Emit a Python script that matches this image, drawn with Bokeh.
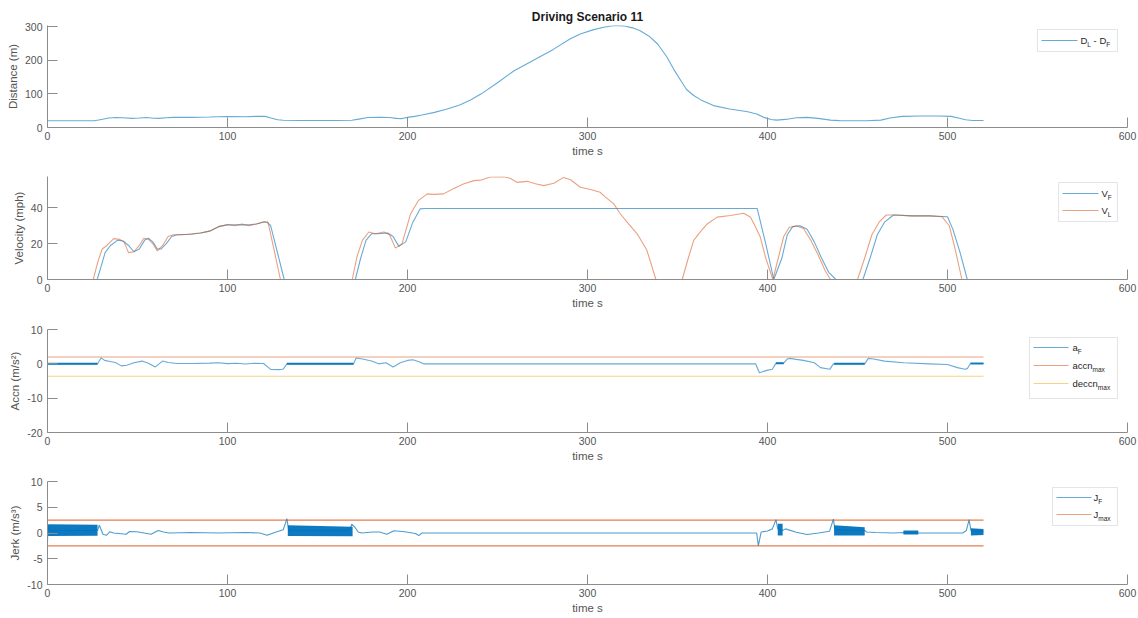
from bokeh.plotting import figure
from bokeh.layouts import column
from bokeh.models import Range1d, FixedTicker, BoxAnnotation, Label
from bokeh.embed import file_html
from bokeh.resources import INLINE

# ---------------- data ----------------
dist_t = [0, 26, 30, 34, 38, 42, 47, 51, 55, 59, 62, 66, 70, 80, 90, 100, 110, 116, 121, 124,
          128, 131, 140, 150, 160, 169, 173, 178, 185, 190, 194, 197, 200, 204, 208, 215, 222, 229, 235, 241,
          250, 259, 270, 281, 290, 296, 303, 309, 315, 320, 325, 329, 334, 339, 344, 348, 352, 355, 359, 363,
          370, 379, 389, 394, 398, 402, 405, 410, 416, 422, 428, 435, 440, 445, 455, 463, 468, 475, 485, 495,
          502, 506, 510, 514, 520]
dist_m = [20, 20, 24, 28, 29.5, 29, 27, 28, 29.5, 27.5, 27, 29, 30, 30, 31, 32.5, 32, 33, 33, 28,
          23, 21.5, 21, 21, 21, 21.5, 25, 29.5, 30, 29.5, 27, 26.5, 30, 33, 37, 45, 55, 67, 82, 100,
          133, 168, 200, 232, 262, 278, 290, 298, 303, 302, 296, 288, 272, 248, 210, 172, 138, 113, 95, 82,
          65, 55, 47, 40, 30, 24, 22, 24, 29, 30, 27, 22, 20.5, 20, 20, 22, 28, 33, 34, 34,
          33, 28, 23, 21, 21]

vl_t = [0, 25.4, 28, 30.4, 33, 36.8, 40, 42.5, 45, 48, 51, 53.5, 56, 58.5, 61, 64, 67, 70, 75, 80,
        85, 90, 95, 100, 104, 108, 112, 116, 120.5, 122.5, 126, 129.4, 169.3, 172, 175, 178.5, 182, 186.9, 190, 193.3,
        197, 201.7, 206, 211, 215, 220, 226, 231, 236.9, 241, 246, 253.5, 257, 261, 266.5, 271, 275.7, 281.3, 286.8, 290.6,
        296, 301.7, 307, 310, 314.6, 318, 322, 327.6, 333, 338, 352.6, 356, 359, 363, 366.5, 372, 379.4, 386.8, 390.6, 393,
        396, 399, 403, 406, 409, 412, 416, 420, 424, 428, 432, 435, 450, 454, 458, 462, 466, 472, 480, 490,
        497, 501, 504, 508, 520]
vl_mph = [0, 0, 10, 17, 19, 22.8, 22.5, 21, 15, 15.5, 19, 23, 22.5, 20, 16, 19, 24, 25, 25, 25.5,
          26, 27, 29.5, 30.7, 30, 31, 30, 31, 32.4, 32, 16, 0, 0, 13, 22, 26.5, 25.5, 26.5, 25, 17.5,
          20, 36.6, 44, 47.8, 47.5, 47.8, 51, 53.3, 55.2, 55.5, 57.2, 57.4, 56.5, 54.2, 54.8, 53.5, 52.4, 53.7, 57, 55.7,
          51.5, 50.2, 48.7, 46, 42.2, 37, 32, 25.5, 16.3, 0, 0, 12, 21.8, 27, 31, 34.8, 35.7, 37, 34.8, 30,
          23.7, 12, 0, 12, 24, 29, 30, 28.5, 22, 14, 5, 0, 0, 12, 25, 32, 36, 36, 35.5, 35.5,
          35, 30, 18, 0, 0]

vf_t = [0, 27.6, 30, 32, 35, 39, 42, 45, 48, 51, 54, 56, 58.5, 61, 63, 66, 69, 72, 80, 85,
        90, 95, 100, 104, 108, 112, 116, 120, 122, 124, 128, 131.5, 171, 174, 177, 180, 184, 189, 192, 195.2,
        199, 203, 207, 210, 394.3, 399, 403.5, 408, 411, 414, 418, 422, 426, 430, 434, 438, 453, 457, 461, 465,
        470, 480, 490, 500, 503, 507, 511, 520]
vf_mph = [0, 0, 8, 15, 19, 22, 21.5, 19, 15.5, 17, 22, 23, 21, 17, 17, 20, 24, 25, 25.3, 26,
          27, 29.5, 30.5, 30.5, 30.5, 30.5, 31, 32, 32, 30, 14, 0, 0, 12, 22, 25.5, 25.5, 26, 24, 18.5,
          21, 32, 39.4, 39.6, 39.6, 20, 0, 12, 25, 29.5, 30, 28, 21, 12, 4, 0, 0, 12, 25, 32,
          36, 35.5, 35.5, 35, 28, 15, 0, 0]

af_t = [0, 27.8, 29.8, 31.7, 34.7, 37.7, 41, 44, 48, 52.6, 56, 59.9, 63.9, 67, 72, 80, 90, 95, 100, 105,
        110, 115, 120, 124, 129, 131, 133, 170, 171.5, 175, 180, 184, 188, 192, 196, 200, 203, 206, 209, 393.4,
        395.5, 399.6, 402.7, 404.7, 409, 410.9, 412.5, 416, 420, 426, 429.4, 434.6, 436.6, 454, 456, 459, 465, 475.7, 490, 500,
        505.5, 509.7, 511, 512.8, 520]
af_val = [0, 0, 1.75, 1.0, 0.7, 0.4, -0.6, -0.4, 0.3, 0.8, 0.2, -0.9, 0.8, 0.4, 0.1, 0.1, 0.2, 0.3, 0.05, 0.15,
          -0.05, 0.15, 0.1, -1.6, -1.7, -1.5, 0, 0, 1.7, 1.4, 0.8, 0.0, 0.3, -0.9, 0.3, 1.0, 1.2, 0.7, 0, 0,
          -2.6, -1.9, -1.6, 0.2, 0.2, 1.4, 1.6, 1.3, 1.0, 0.3, -1.1, -1.6, 0, 0, 1.6, 1.4, 0.8, 0.3, 0, -0.2,
          -1.1, -1.6, -1.4, 0.1, 0.1]
# stretches where a_F chatters around a constant (drawn thicker)
af_thick_start = [0, 133, 404.7, 437, 512.8]
af_thick_end = [27.8, 170, 409, 454, 520]
af_thick_level = [0, 0, 0.2, 0, 0.1]

limit_t = [0, 520]
accn_max = 2.0
deccn_max = -3.6
jerk_max = 2.5

j_t = [0, 0.3, 1.0, 27.8, 28.8, 30.8, 32.7, 34.7, 36.7, 39.7, 43.7, 45.6, 49.6, 53.6, 57.5, 61.5, 64.5, 67.5, 80, 95,
       110, 118, 122, 127, 131, 133, 134, 168, 169, 170.6, 172.6, 174.6, 180.6, 184.5, 188.5, 192.5, 198.4, 204.4, 206.3, 208,
       394, 394.9, 396.5, 400, 402.7, 404.7, 405.7, 408.4, 410, 416, 422, 428.3, 434.5, 436.6, 437.5, 454, 455, 460, 470, 475.5,
       483.8, 495, 508.4, 510.5, 512, 513, 520]
j_val = [-1.75, 1.5, 0.5, 0.5, 1.5, -0.25, -0.45, 0.25, 0, -0.1, -0.25, 0.3, 0.25, 0, -0.25, 0.5, 0.2, 0, 0.1, 0,
         0.1, 0, -0.45, 0.2, 0.65, 2.8, 0.5, 0.5, 1.7, 1.2, 0.2, 0, 0.2, 0.2, -0.25, 0.45, 0.25, -0.1, -0.5, 0,
         0, -2.5, 0.2, 0.4, 0.8, 2.6, 0.8, 0.5, 0.8, 0.15, -0.3, 0, 0.35, 2.7, 0.6, 0.5, 0.2, 0.1, 0, 0.1,
         0, 0, 0, 0.5, 2.6, 0.5, 0.3]
# stretches where J_F oscillates rapidly (drawn as filled envelopes)
jb_start = [0.3, 133.5, 405.7, 437, 475.5, 513]
jb_end = [27.8, 169.5, 408.4, 454, 483.8, 520]
jb_hi_start = [1.7, 1.5, 1.8, 1.5, 0.5, 0.9]
jb_hi_end = [1.6, 1.2, 1.8, 1.1, 0.5, 0.8]
jb_lo_start = [-0.6, -0.6, -0.5, -0.5, -0.3, -0.5]
jb_lo_end = [-0.55, -0.65, -0.5, -0.5, -0.3, -0.4]

x_ticks = [0, 100, 200, 300, 400, 500, 600]

# ---------------- styling ----------------
FONT = "Liberation Sans"
BLUE = "#0072BD"
ORANGE = "#D95319"
YELLOW = "#EDB120"
AXIS = "#8c8c8c"
TICKTXT = "#555555"
FRAME_L, FRAME_W, XMAX = 47, 1080, 600
BLUE_A, ORANGE_A, YELLOW_A = 0.6, 0.55, 0.55

panels = [
    dict(page_top=0, frame_top=25, fh=102, bottom=38, ymin=0, ymax=303, yticks=[0, 100, 200, 300], ylabel="Distance (m)"),
    dict(page_top=165, frame_top=176, fh=103, bottom=38, ymin=0, ymax=57.5, yticks=[0, 20, 40], ylabel="Velocity (mph)"),
    dict(page_top=317, frame_top=329, fh=103, bottom=38, ymin=-20, ymax=10, yticks=[-20, -10, 0, 10], ylabel="Accn (m/s²)"),
    dict(page_top=470, frame_top=481, fh=103, bottom=34, ymin=-10, ymax=10, yticks=[-10, -5, 0, 5, 10], ylabel="Jerk (m/s³)"),
]


def dx(px):
    return (px - FRAME_L) / FRAME_W * XMAX


def dy(s, py):
    return s["ymax"] - (py - s["frame_top"]) / s["fh"] * (s["ymax"] - s["ymin"])


def make_panel(s):
    p = figure(frame_width=FRAME_W, frame_height=s["fh"],
               x_range=Range1d(0, XMAX), y_range=Range1d(s["ymin"], s["ymax"]),
               output_backend="svg", toolbar_location=None,
               min_border_left=FRAME_L, min_border_right=11,
               min_border_top=s["frame_top"] - s["page_top"], min_border_bottom=s["bottom"],
               background_fill_color="white", border_fill_color="white", outline_line_color=None)
    p.grid.visible = False
    for ax in (p.xaxis[0], p.yaxis[0]):
        ax.axis_line_color = AXIS
        ax.major_tick_line_color = AXIS
        ax.major_tick_in = 10
        ax.major_tick_out = 0
        ax.minor_tick_in = 0
        ax.minor_tick_out = 0
        ax.major_label_text_font = FONT
        ax.major_label_text_font_size = "10.5px"
        ax.major_label_text_color = TICKTXT
        ax.axis_label_text_font = FONT
        ax.axis_label_text_font_size = "11.5px"
        ax.axis_label_text_font_style = "normal"
        ax.axis_label_text_color = TICKTXT
    p.xaxis.ticker = FixedTicker(ticks=x_ticks)
    p.xaxis.axis_label = "time s"
    p.xaxis.major_label_standoff = 4
    p.xaxis.axis_label_standoff = 2
    p.yaxis.ticker = FixedTicker(ticks=s["yticks"])
    p.yaxis.major_label_overrides = {t: str(t) for t in s["yticks"]}
    p.yaxis.axis_label = s["ylabel"]
    p.yaxis.major_label_standoff = 5
    p.yaxis.axis_label_standoff = 3
    return p


CW = {'D': 722, 'L': 556, 'F': 611, ' ': 278, '-': 333, 'V': 667, 'a': 556, 'c': 500,
      'n': 556, 'd': 556, 'e': 556, 'm': 833, 'x': 500, 'J': 500}


def tw(text, size):
    return sum(CW.get(c, 556) for c in text) / 1000 * size


def add_legend(p, s, box, items):
    x1, y1, x2, y2 = box
    p.add_layout(BoxAnnotation(left=dx(x1), right=dx(x2), top=dy(s, y1), bottom=dy(s, y2),
                               fill_color="white", fill_alpha=1, line_color="#a6a6a6", line_width=1))
    for ly, lx1, lx2, color, alpha, tx, runs in items:
        r = p.segment(x0=[dx(lx1)], y0=[dy(s, ly)], x1=[dx(lx2)], y1=[dy(s, ly)],
                      line_color=color, line_alpha=alpha, line_width=1.1)
        r.level = "overlay"
        x = tx
        for text, sub in runs:
            size = 6.5 if sub else 9.5
            if text.startswith(" "):
                x += tw(" ", size)
                text = text[1:]
            yo = ly + (3.5 if sub else 0)
            p.add_layout(Label(x=dx(x), y=dy(s, yo), text=text, text_font=FONT, text_font_size=f"{size}px",
                               text_baseline="middle", text_align="left", text_color="#262626", level="overlay"))
            x += tw(text, size)


# ---------------- panel 1: distance ----------------
s1 = panels[0]
p1 = make_panel(s1)
p1.title.text = "Driving Scenario 11"
p1.title.align = "center"
p1.title.text_font = FONT
p1.title.text_font_size = "12px"
p1.title.text_font_style = "bold"
p1.title.text_color = "#1a1a1a"
p1.title.standoff = 3
p1.line(dist_t, dist_m, line_color=BLUE, line_width=1.1, line_alpha=BLUE_A)
add_legend(p1, s1, (1037, 29, 1117, 51),
           [(40, 1041, 1077, BLUE, BLUE_A, 1080, [("D", 0), ("L", 1), (" - D", 0), ("F", 1)])])

# ---------------- panel 2: velocity ----------------
s2 = panels[1]
p2 = make_panel(s2)
p2.line(vf_t, vf_mph, line_color=BLUE, line_width=1.1, line_alpha=BLUE_A)
p2.line(vl_t, vl_mph, line_color=ORANGE, line_width=1.1, line_alpha=ORANGE_A)
add_legend(p2, s2, (1058, 182, 1117, 221),
           [(193, 1062, 1098, BLUE, BLUE_A, 1101, [("V", 0), ("F", 1)]),
            (210, 1062, 1098, ORANGE, ORANGE_A, 1101, [("V", 0), ("L", 1)])])

# ---------------- panel 3: acceleration ----------------
s3 = panels[2]
p3 = make_panel(s3)
p3.line(af_t, af_val, line_color=BLUE, line_width=1.1, line_alpha=BLUE_A)
p3.segment(x0=af_thick_start, y0=af_thick_level, x1=af_thick_end, y1=af_thick_level,
           line_color=BLUE, line_width=2.0, line_alpha=0.9)
p3.line(limit_t, [accn_max, accn_max], line_color=ORANGE, line_width=1.1, line_alpha=ORANGE_A)
p3.line(limit_t, [deccn_max, deccn_max], line_color=YELLOW, line_width=1.1, line_alpha=YELLOW_A)
add_legend(p3, s3, (1029, 337, 1117, 398),
           [(347, 1033, 1068, BLUE, BLUE_A, 1072, [("a", 0), ("F", 1)]),
            (365, 1033, 1068, ORANGE, ORANGE_A, 1072, [("accn", 0), ("max", 1)]),
            (383, 1033, 1068, YELLOW, YELLOW_A, 1072, [("deccn", 0), ("max", 1)])])

# ---------------- panel 4: jerk ----------------
s4 = panels[3]
p4 = make_panel(s4)
for a, b, hs, he, ls, le in zip(jb_start, jb_end, jb_hi_start, jb_hi_end, jb_lo_start, jb_lo_end):
    p4.varea(x=[a, b], y1=[ls, le], y2=[hs, he], fill_color=BLUE, fill_alpha=0.95)
p4.line(j_t, j_val, line_color=BLUE, line_width=1.1, line_alpha=0.7)
p4.line(limit_t, [jerk_max, jerk_max], line_color=ORANGE, line_width=1.1, line_alpha=0.75)
p4.line(limit_t, [-jerk_max, -jerk_max], line_color=ORANGE, line_width=1.1, line_alpha=0.75)
add_legend(p4, s4, (1052, 487, 1117, 525),
           [(497, 1056, 1091, BLUE, BLUE_A, 1093, [("J", 0), ("F", 1)]),
            (514, 1056, 1091, ORANGE, ORANGE_A, 1093, [("J", 0), ("max", 1)])])

layout = column(p1, p2, p3, p4, spacing=0)
open("out.html", "w").write(file_html(layout, INLINE))
